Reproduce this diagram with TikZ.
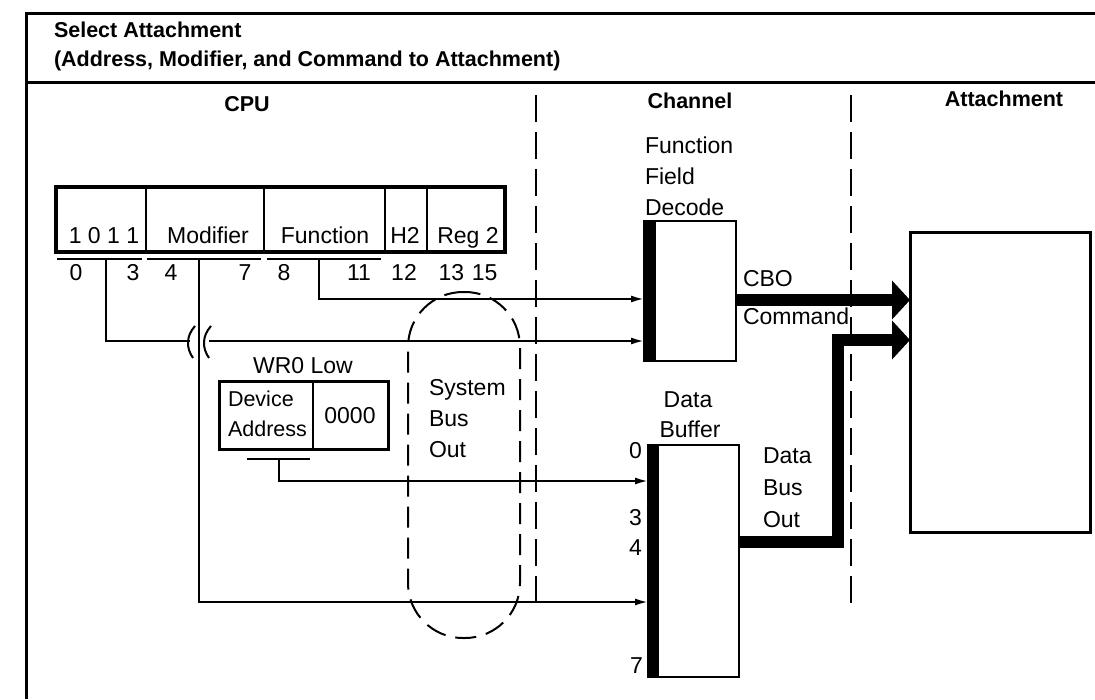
\documentclass[tikz,border=0pt]{standalone}
\usepackage{fontspec}
\setmainfont{Liberation Sans}
\usetikzlibrary{arrows.meta,calc}
\begin{document}
\begin{tikzpicture}[x=1pt,y=-1pt,
  every node/.style={inner sep=0pt, outer sep=0pt, font=\fontsize{23}{30.5}\selectfont},
  small/.style={font=\fontsize{21.5}{29}\selectfont},
  head/.style={font=\fontsize{21.5}{30}\selectfont\bfseries},
  txt/.style={anchor=base west},
  ctxt/.style={anchor=base},
  frameline/.style={line width=3pt},
  field/.style={draw, line width=1.8pt, minimum height=65pt},
  wire/.style={line width=2pt},
  conn/.style={line width=2pt, -{Latex[length=13pt,width=7pt]}},
  sepline/.style={line width=2.5pt, dash pattern=on 27pt off 10pt},
  ovalline/.style={draw, line width=2pt, dash pattern=on 21pt off 10pt},
  bus/.style={line width=12pt, line join=miter, -{Triangle[length=18pt,width=38pt]}},
  unit/.style={draw, line width=2.5pt},
  bar/.style={fill=black}
]
\useasboundingbox (0,0) rectangle (1095,699);

% frame
\draw[frameline] (26,699) -- (26,13) -- (1095,13);
\draw[frameline] (26,82) -- (1095,82);
\node[head, txt] (title1) at (54,37) {Select Attachment};
\node[head, txt] (title2) at (54,66) {(Address, Modifier, and Command to Attachment)};

% column headings
\node[head, ctxt] (cpu) at (247,111) {CPU};
\node[head, ctxt] (chan) at (690,108) {Channel};
\node[head, ctxt] (attl) at (1004,106) {Attachment};

% column separators
\coordinate (s1t) at (536,95);  \coordinate (s1b) at (536,610);
\coordinate (s2t) at (851,95);  \coordinate (s2b) at (851,608);
\draw[sepline] (s1t) -- (s1b);
\draw[sepline] (s2t) -- (s2b);

% register
\node[field, minimum width=90pt]  (f03)   at (101,219.5) {};
\node[field, minimum width=118pt] (f47)   at (205,219.5) {};
\node[field, minimum width=121pt] (f811)  at (324.5,219.5) {};
\node[field, minimum width=42pt]  (f12)   at (406,219.5) {};
\node[field, minimum width=78pt]  (f1315) at (466,219.5) {};
\draw[line width=3.5pt] (f03.north west) rectangle (f1315.south east);
\node[ctxt] (t03)   at (104,243) {1 0 1 1};
\node[ctxt] (t47)   at (208,243) {Modifier};
\node[ctxt] (t811)  at (325,243) {Function};
\node[ctxt] (t12)   at (405,243) {H2};
\node[ctxt] (t1315) at (468,243) {Reg 2};

% bit underlines
\draw[wire] (57,259) -- (142,259);
\draw[wire] (147,259) -- (261,259);
\draw[wire] (267,259) -- (381,259);
\node[ctxt] (b0)  at (76,280)  {0};
\node[ctxt] (b3)  at (133,280) {3};
\node[ctxt] (b4)  at (171,280) {4};
\node[ctxt] (b7)  at (245,280) {7};
\node[ctxt] (b8)  at (284,280) {8};
\node[ctxt] (b11) at (359,280) {11};
\node[ctxt] (b12) at (404,280) {12};
\node[ctxt] (b13) at (468,280) {13\,\,15};

\coordinate (u03) at (106,259);
\coordinate (u47) at (199,259);
\coordinate (u811) at (319,259);

% system bus out oval
\node[ovalline, rounded corners=55pt, minimum width=112pt, minimum height=346pt] (sbo) at (464,465) {};
\node[txt] (sbo1) at (429,395) {System};
\node[txt] (sbo2) at (429,426) {Bus};
\node[txt] (sbo3) at (429,457) {Out};

% WR0 low
\node[ctxt] (wrl) at (303,373) {WR0 Low};
\node[draw, line width=1.8pt, minimum width=94pt, minimum height=68pt] (wda) at (266,415) {};
\node[draw, line width=1.8pt, minimum width=75pt, minimum height=68pt] (wz) at (350.5,415) {};
\draw[line width=3pt] (wda.north west) rectangle (wz.south east);
\node[txt, small] (dev1) at (228,406) {Device};
\node[txt, small] (dev2) at (228,436) {Address};
\node[ctxt] (zz) at (350,423) {0000};
\draw[wire] (247,459) -- (310,459);
\coordinate (uw) at (279,459);

% function field decode
\node[txt] (ffd1) at (645,153) {Function};
\node[txt] (ffd2) at (645,184) {Field};
\node[txt] (ffd3) at (645,215) {Decode};
\node[unit, minimum width=92pt, minimum height=140pt] (ffd) at (690,291) {};
\fill[bar] (ffd.north west) rectangle ([xshift=12pt]ffd.south west);

% data buffer
\node[ctxt] (dbl1) at (688,407) {Data};
\node[ctxt] (dbl2) at (690,437) {Buffer};
\node[unit, minimum width=91pt, minimum height=232pt] (db) at (693.5,561) {};
\fill[bar] (db.north west) rectangle ([xshift=11pt]db.south west);
\node[anchor=base east] (d0) at (642,458) {0};
\node[anchor=base east] (d3) at (642,525) {3};
\node[anchor=base east] (d4) at (642,555) {4};
\node[anchor=base east] (d7) at (643,673) {7};
\node[txt] (dbo1) at (763,463) {Data};
\node[txt] (dbo2) at (763,495) {Bus};
\node[txt] (dbo3) at (763,527) {Out};

% attachment
\node[draw, line width=3pt, minimum width=180pt, minimum height=300pt] (att) at (1000,382) {};

% CBO / command
\node[txt] (cbo) at (743,286) {CBO};
\node[txt] (cmd) at (743,324) {Command};
\draw[bus] (ffd.east |- 0,300) -- (att.west |- 0,300);
\draw[bus] (db.east |- 0,542) -| (838,340) -- (att.west |- 0,340);

% connectors from CPU
\draw[conn] (u811) |- (ffd.west |- 0,299);
\draw[wire] (u03) |- (190,341);
\draw[wire] (195,326) .. controls (186,336) and (186,348) .. (193,358);
\draw[wire] (211,326) .. controls (202,336) and (202,348) .. (209,358);
\draw[conn] (209,341) -- (ffd.west |- 0,341);
\draw[conn] (u47) |- (db.west |- 0,602);
\draw[conn] (uw) |- (db.west |- 0,481);
\end{tikzpicture}
\end{document}
